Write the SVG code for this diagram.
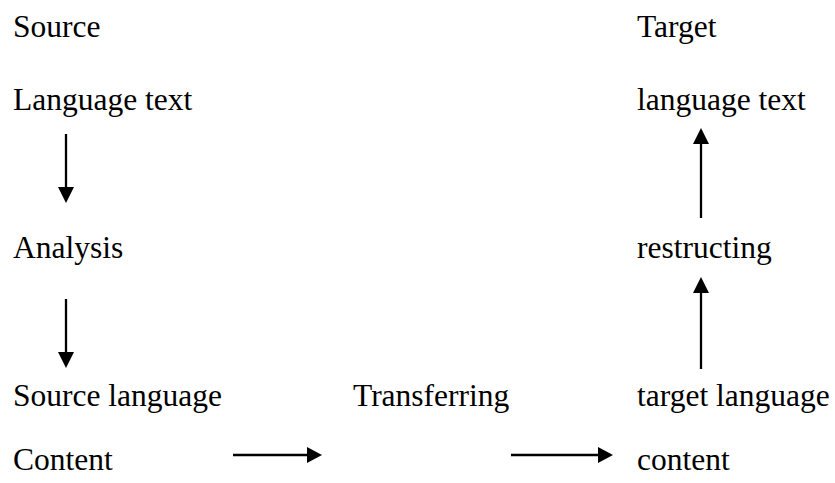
<svg xmlns="http://www.w3.org/2000/svg" width="835" height="483" viewBox="0 0 835 483">
<style>
text{font-family:"Liberation Serif","Times New Roman",serif;font-size:31.5px;fill:#000}
.ln{stroke:#000;stroke-width:2.3;fill:none}
.hd{fill:#000;stroke:none}
</style>
<rect width="835" height="483" fill="#fff"/>
<g id="source"><text x="13" y="37">Source</text></g>
<g id="source-text"><text x="13" y="110">Language text</text></g>
<g id="analysis"><text x="13" y="258">Analysis</text></g>
<g id="source-language"><text x="13" y="406">Source language</text></g>
<g id="content-left"><text x="13" y="470">Content</text></g>
<g id="transferring"><text x="353" y="406">Transferring</text></g>
<g id="target"><text x="637" y="37">Target</text></g>
<g id="target-text"><text x="637" y="110">language text</text></g>
<g id="restructing"><text x="637" y="258">restructing</text></g>
<g id="target-language"><text x="637" y="406">target language</text></g>
<g id="content-right"><text x="637" y="470">content</text></g>
<g id="connectors">
<line class="ln" x1="66" y1="134" x2="66" y2="189"/>
<polygon class="hd" points="58,187 74,187 66,203"/>
<line class="ln" x1="66" y1="299" x2="66" y2="354"/>
<polygon class="hd" points="58,352 74,352 66,368"/>
<line class="ln" x1="233" y1="455" x2="309" y2="455"/>
<polygon class="hd" points="307,447 307,463 322,455"/>
<line class="ln" x1="511" y1="455" x2="600" y2="455"/>
<polygon class="hd" points="598,447 598,463 613,455"/>
<line class="ln" x1="701" y1="369" x2="701" y2="291"/>
<polygon class="hd" points="693,293 709,293 701,277"/>
<line class="ln" x1="701" y1="218" x2="701" y2="142"/>
<polygon class="hd" points="693,144 709,144 701,128"/>
</g>
</svg>
